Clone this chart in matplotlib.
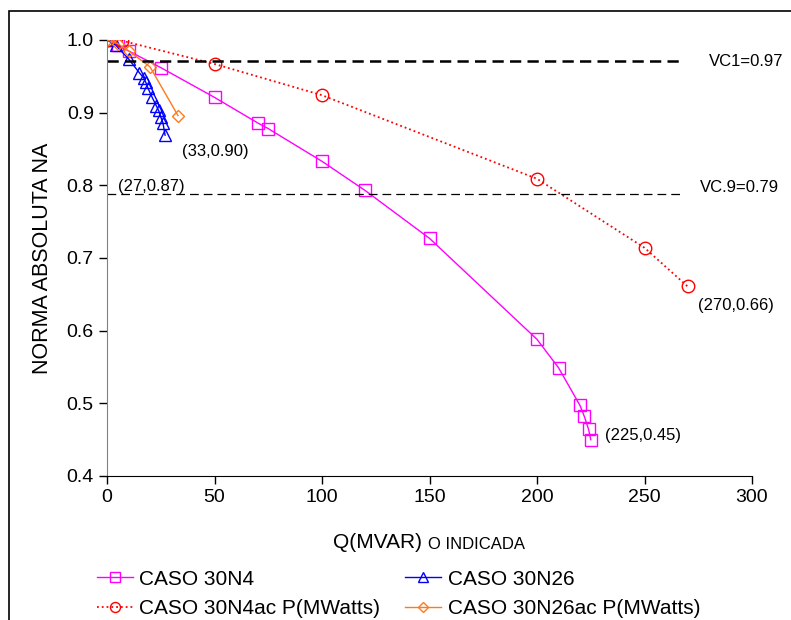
import matplotlib.pyplot as plt
from matplotlib.patches import Rectangle

plt.rcParams['font.family'] = ['Liberation Sans', 'DejaVu Sans']

# CASO 30N4
q_n4 = [0, 5, 10, 25, 50, 70, 75, 100, 120, 150, 200, 210, 220, 222, 224, 225]
v_n4 = [1.0, 0.993, 0.985, 0.962, 0.921, 0.886, 0.878, 0.833, 0.793, 0.727,
        0.588, 0.549, 0.497, 0.482, 0.464, 0.45]

# CASO 30N26
q_n26 = [0, 4, 10, 15, 17, 18, 19, 21, 23, 24, 25, 26, 27]
v_n26 = [1.0, 0.993, 0.974, 0.955, 0.948, 0.942, 0.934, 0.921, 0.909, 0.903,
         0.894, 0.886, 0.869]

# CASO 30N4ac P(MWatts)
p_n4ac = [0, 7, 50, 100, 200, 250, 270]
v_n4ac = [1.0, 0.999, 0.967, 0.924, 0.809, 0.714, 0.661]

# CASO 30N26ac P(MWatts)
p_n26ac = [0, 5, 10, 20, 33]
v_n26ac = [1.0, 0.995, 0.985, 0.963, 0.896]

vc1 = 0.971
vc9 = 0.788

fig = plt.figure(figsize=(7.91, 6.2), dpi=100)
ax = fig.add_axes([0.1353, 0.2323, 0.8154, 0.7032])

h1, = ax.plot(q_n4, v_n4, color='#FF00FF', lw=1, marker='s', ms=9,
              mfc='none', mew=1, label='CASO 30N4')
h2, = ax.plot(q_n26, v_n26, color='#0000FF', lw=1, marker='^', ms=9,
              mfc='none', mew=1, label='CASO 30N26')
h3, = ax.plot(p_n4ac, v_n4ac, color='#FF0000', lw=1.3, ls=':', marker='o',
              ms=9, mfc='none', mew=1, label='CASO 30N4ac P(MWatts)')
h4, = ax.plot(p_n26ac, v_n26ac, color='#FF7A1C', lw=1, marker='D', ms=6.5,
              mfc='none', mew=1, label='CASO 30N26ac P(MWatts)')

ax.plot([0, 267], [vc1, vc1], color='black', lw=1.8, ls=(0, (4.5, 2.5)))
ax.plot([0, 267], [vc9, vc9], color='black', lw=0.9, ls=(0, (7, 4)))
ax.text(280, vc1, 'VC1=0.97', fontsize=12, va='center')
ax.text(276, vc9 + 0.009, 'VC.9=0.79', fontsize=12, va='center')

ax.text(35, 0.846, '(33,0.90)', fontsize=12, va='center')
ax.text(5, 0.799, '(27,0.87)', fontsize=12, va='center')
ax.text(275, 0.634, '(270,0.66)', fontsize=12, va='center')
ax.text(231.5, 0.456, '(225,0.45)', fontsize=12, va='center')

ax.set_xlim(0, 300)
ax.set_ylim(0.4, 1.0)
ax.set_xticks(range(0, 301, 50))
ax.set_yticks([0.4, 0.5, 0.6, 0.7, 0.8, 0.9, 1.0])
ax.set_yticklabels(['0.4', '0.5', '0.6', '0.7', '0.8', '0.9', '1.0'])
ax.tick_params(labelsize=14, direction='out', length=6, width=1)
for s in ['top', 'right']:
    ax.spines[s].set_visible(False)
ax.spines['left'].set_color('#808080')
ax.spines['bottom'].set_color('black')

ax.set_ylabel('NORMA ABSOLUTA NA', fontsize=15.5, labelpad=10)
fig.text(0.534, 0.125, 'Q(MVAR)', fontsize=15, ha='right', va='center')
fig.text(0.541, 0.122, 'O INDICADA', fontsize=12, ha='left', va='center')

ax.legend([h1, h3, h2, h4],
          [h1.get_label(), h3.get_label(), h2.get_label(), h4.get_label()],
          loc='upper left', bbox_to_anchor=(0.122, 0.081), ncol=2,
          frameon=False, fontsize=15, numpoints=1, handlelength=1.75,
          handletextpad=0.3, columnspacing=1.18, labelspacing=0.5,
          markerscale=0.8, borderaxespad=0, borderpad=0,
          bbox_transform=fig.transFigure)

fig.patches.append(Rectangle((9 / 791, -0.5), 2, 0.5 + 1 - 11 / 620,
                             transform=fig.transFigure, fill=False,
                             edgecolor='black', lw=1.2))

fig.savefig('out.png', dpi=100)
